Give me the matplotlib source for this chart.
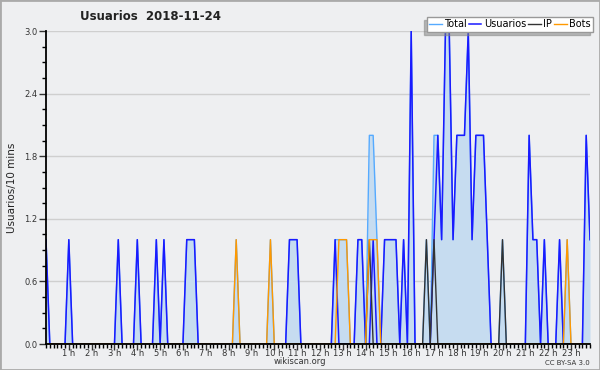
import matplotlib
matplotlib.use("Agg")
import matplotlib.pyplot as plt
from matplotlib.patches import Rectangle
from matplotlib.ticker import MultipleLocator, FormatStrFormatter
import numpy as np

# 144 tramos de 10 minutos (una fila = 2 horas)
usuarios = [
    1, 0, 0, 0, 0, 0, 1, 0, 0, 0, 0, 0,
    0, 0, 0, 0, 0, 0, 0, 1, 0, 0, 0, 0,
    1, 0, 0, 0, 0, 1, 0, 1, 0, 0, 0, 0,
    0, 1, 1, 1, 0, 0, 0, 0, 0, 0, 0, 0,
    0, 0, 0, 0, 0, 0, 0, 0, 0, 0, 0, 0,
    0, 0, 0, 0, 1, 1, 1, 0, 0, 0, 0, 0,
    0, 0, 0, 0, 1, 0, 0, 0, 0, 0, 1, 1,
    0, 0, 1, 0, 0, 1, 1, 1, 1, 0, 1, 0,
    3, 0, 0, 0, 0, 0, 1, 2, 1, 3, 3, 1,
    2, 2, 2, 3, 1, 2, 2, 2, 1, 0, 0, 0,
    0, 0, 0, 0, 0, 0, 0, 2, 1, 1, 0, 1,
    0, 0, 0, 1, 0, 0, 0, 0, 0, 0, 2, 1,
]
ip = [
    0, 0, 0, 0, 0, 0, 0, 0, 0, 0, 0, 0,
    0, 0, 0, 0, 0, 0, 0, 0, 0, 0, 0, 0,
    0, 0, 0, 0, 0, 0, 0, 0, 0, 0, 0, 0,
    0, 0, 0, 0, 0, 0, 0, 0, 0, 0, 0, 0,
    0, 0, 0, 0, 0, 0, 0, 0, 0, 0, 0, 0,
    0, 0, 0, 0, 0, 0, 0, 0, 0, 0, 0, 0,
    0, 0, 0, 0, 0, 0, 0, 0, 0, 0, 0, 0,
    0, 1, 0, 0, 0, 0, 0, 0, 0, 0, 0, 0,
    0, 0, 0, 0, 1, 0, 1, 0, 0, 0, 0, 0,
    0, 0, 0, 0, 0, 0, 0, 0, 0, 0, 0, 0,
    1, 0, 0, 0, 0, 0, 0, 0, 0, 0, 0, 0,
    0, 0, 0, 0, 0, 0, 0, 0, 0, 0, 0, 0,
]
bots = [
    0, 0, 0, 0, 0, 0, 0, 0, 0, 0, 0, 0,
    0, 0, 0, 0, 0, 0, 0, 0, 0, 0, 0, 0,
    0, 0, 0, 0, 0, 0, 0, 0, 0, 0, 0, 0,
    0, 0, 0, 0, 0, 0, 0, 0, 0, 0, 0, 0,
    0, 0, 1, 0, 0, 0, 0, 0, 0, 0, 0, 1,
    0, 0, 0, 0, 0, 0, 0, 0, 0, 0, 0, 0,
    0, 0, 0, 0, 0, 1, 1, 1, 0, 0, 0, 0,
    0, 1, 1, 1, 0, 0, 0, 0, 0, 0, 0, 0,
    0, 0, 0, 0, 0, 0, 0, 0, 0, 0, 0, 0,
    0, 0, 0, 0, 0, 0, 0, 0, 0, 0, 0, 0,
    0, 0, 0, 0, 0, 0, 0, 0, 0, 0, 0, 0,
    0, 0, 0, 0, 0, 1, 0, 0, 0, 0, 0, 0,
]
total = [
    1, 0, 0, 0, 0, 0, 1, 0, 0, 0, 0, 0,
    0, 0, 0, 0, 0, 0, 0, 1, 0, 0, 0, 0,
    1, 0, 0, 0, 0, 1, 0, 1, 0, 0, 0, 0,
    0, 1, 1, 1, 0, 0, 0, 0, 0, 0, 0, 0,
    0, 0, 1, 0, 0, 0, 0, 0, 0, 0, 0, 1,
    0, 0, 0, 0, 1, 1, 1, 0, 0, 0, 0, 0,
    0, 0, 0, 0, 1, 1, 1, 1, 0, 0, 1, 1,
    0, 2, 2, 1, 0, 1, 1, 1, 1, 0, 1, 0,
    3, 0, 0, 0, 1, 0, 2, 2, 1, 3, 3, 1,
    2, 2, 2, 3, 1, 2, 2, 2, 1, 0, 0, 0,
    1, 0, 0, 0, 0, 0, 0, 2, 1, 1, 0, 1,
    0, 0, 0, 1, 0, 1, 0, 0, 0, 0, 2, 1,
]
hours = np.arange(len(total)) / 6.0
hour_labels = [f"{h} h" for h in range(1, 24)]

bg = "#eeeff1"
fig = plt.figure(figsize=(6, 3.7), dpi=100, facecolor=bg)
ax = fig.add_axes([46 / 600, 26 / 370, 544 / 600, 313 / 370], facecolor=bg)

ax.fill_between(hours, total, 0, color="#c6dcf0", lw=0)
ax.plot(hours, total, color="#55aaff", lw=1.0, label="Total")
ax.plot(hours, usuarios, color="#1a1aff", lw=1.1, label="Usuarios")
ax.plot(hours, ip, color="#333333", lw=1.0, label="IP")
ax.plot(hours, bots, color="#ff9900", lw=1.0, label="Bots")

ax.set_xlim(0, hours[-1])
ax.set_ylim(0, 3)
ax.set_xticks(range(1, 24))
ax.set_xticklabels(hour_labels)
ax.xaxis.set_minor_locator(MultipleLocator(1 / 6))
ax.yaxis.set_major_locator(MultipleLocator(0.6))
ax.yaxis.set_minor_locator(MultipleLocator(0.15))
ax.yaxis.set_major_formatter(FormatStrFormatter("%.1f"))
ax.tick_params(axis="both", which="major", labelsize=6, length=5, width=1,
               colors="#333333", pad=1)
ax.tick_params(axis="both", which="minor", length=3, width=1)
ax.tick_params(axis="x", which="major", labelsize=6, pad=-0.5, length=4)
ax.grid(axis="y", which="major", color="#cfcfcf", lw=1)
ax.set_axisbelow(True)
for s in ("top", "right"):
    ax.spines[s].set_visible(False)
for s in ("left", "bottom"):
    ax.spines[s].set_linewidth(1.3)

ax.set_ylabel("Usuarios/10 mins", fontsize=7.5, color="#222222", labelpad=5)

fig.text(151 / 600, 1 - 17 / 370, "Usuarios  2018-11-24", fontsize=8.5,
         fontweight="bold", ha="center", va="center", color="#222222")
fig.text(300 / 600, 1 - 361 / 370, "wikiscan.org", fontsize=6,
         ha="center", va="center", color="#333333")
fig.text(590 / 600, 1 - 363 / 370, "CC BY-SA 3.0", fontsize=5,
         ha="right", va="center", color="#333333")

leg = fig.legend(loc="upper right", bbox_to_anchor=(593 / 600, 1 - 17 / 370),
                 ncol=4, fontsize=7, frameon=True, fancybox=False,
                 handlelength=1.3, handletextpad=0.25, columnspacing=0.2,
                 borderpad=0.25, borderaxespad=0,
                 shadow={"ox": -2, "oy": -2, "shade": 0.5})
leg.get_frame().set_edgecolor("#999999")
leg.get_frame().set_linewidth(1)

fig.patches.append(Rectangle((0, 0), 1, 1, transform=fig.transFigure,
                             fill=False, edgecolor="#aaaaaa", lw=2))

fig.savefig("out.png", dpi=100, facecolor=bg)
